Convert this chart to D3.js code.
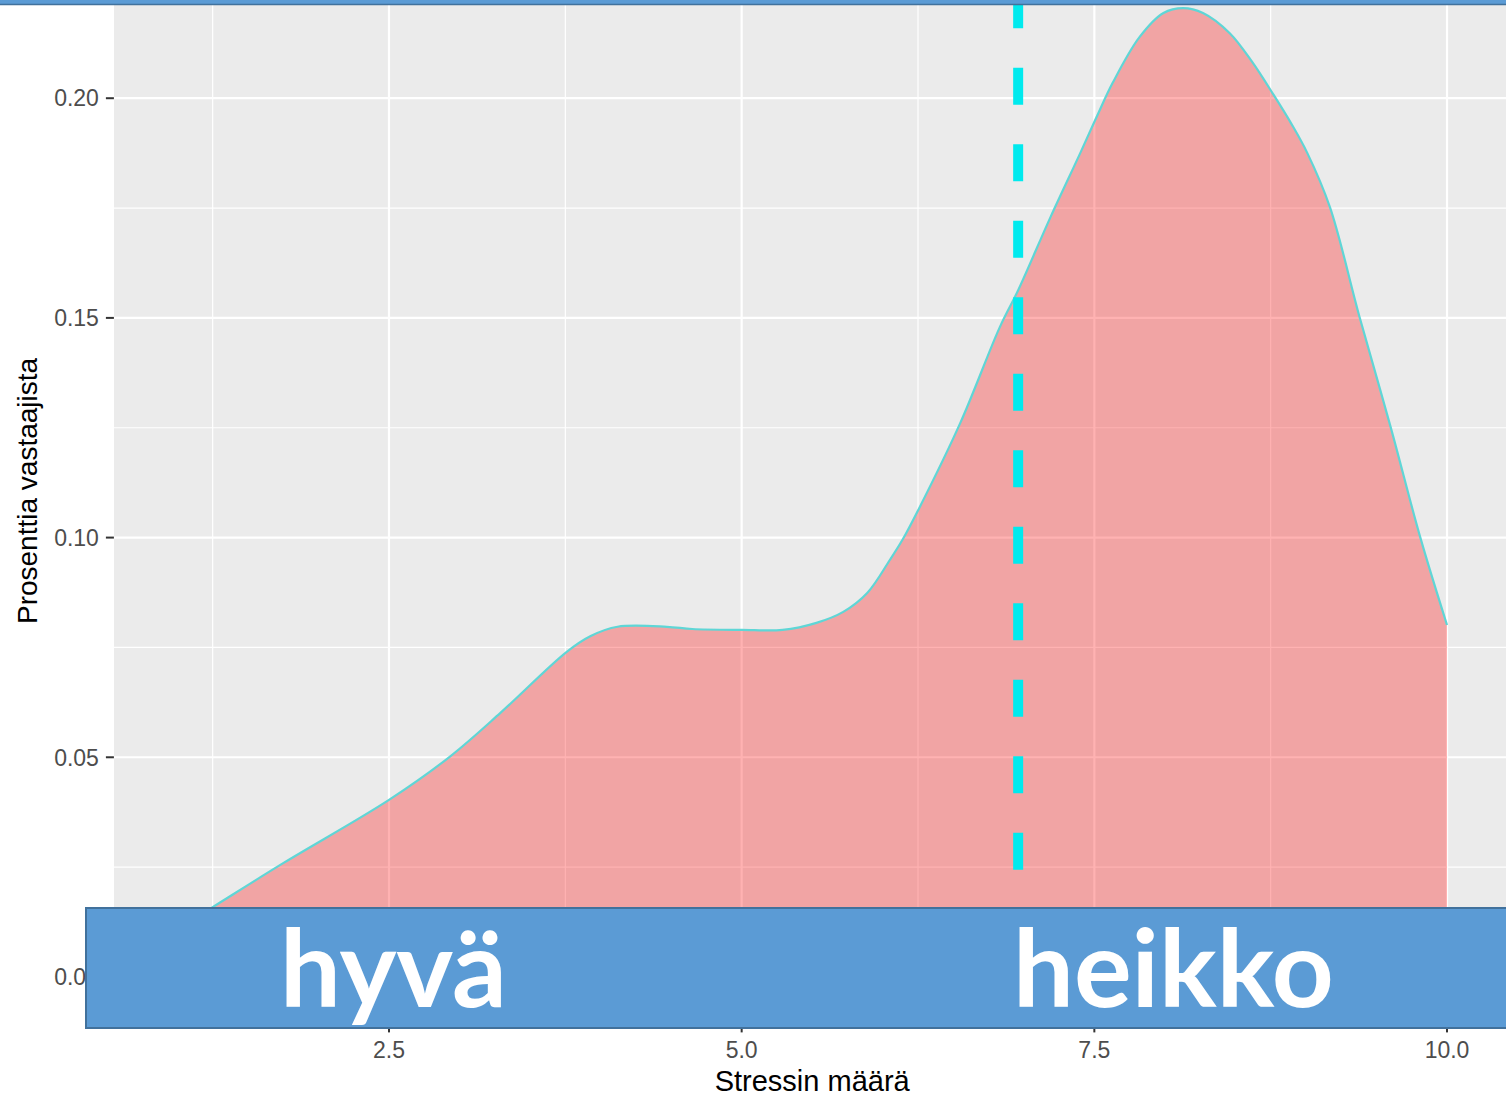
<!DOCTYPE html>
<html>
<head>
<meta charset="utf-8">
<script src="https://cdnjs.cloudflare.com/ajax/libs/d3/7.8.5/d3.min.js"></script>
<style>
  body { margin: 0; background: #fff; }
  svg { display: block; }
  .tick-label { font-family: "Liberation Sans", Arial, sans-serif; font-size: 23px; fill: #4d4d4d; }
  .axis-title { font-family: "Liberation Sans", Arial, sans-serif; font-size: 28px; fill: #000; }
  .banner-text { font-family: Lato, "Open Sans", sans-serif; font-weight: 700; font-size: 108px; fill: #fff; }
</style>
</head>
<body>
<svg width="1506" height="1096"></svg>
<script>
// density curve (stress score -> share of respondents)
const stress = [1.0, 1.25, 1.75, 2.5, 2.93, 3.29, 3.76, 3.93, 4.12, 4.47, 4.65, 5.0, 5.29, 5.53, 5.72, 5.89,
  6.05, 6.14, 6.26, 6.55, 6.83, 6.96, 7.19, 7.4, 7.52, 7.63, 7.82, 7.99, 8.13, 8.27, 8.46, 8.62, 8.77,
  8.9, 9.01, 9.17, 9.38, 9.6, 9.81, 10.0];
const density = [0.0109, 0.0159, 0.0259, 0.0403, 0.0501, 0.0601, 0.074, 0.0776, 0.0797, 0.0797, 0.0792, 0.079, 0.079, 0.0806, 0.0831, 0.0874,
  0.0949, 0.0995, 0.1068, 0.1261, 0.1479, 0.1563, 0.173, 0.1875, 0.196, 0.2035, 0.2139, 0.2194, 0.2205, 0.2194, 0.2148, 0.2082, 0.2008,
  0.194, 0.1875, 0.1752, 0.1502, 0.1252, 0.1001, 0.0801];
const meanStress = 6.96;

const xTicks = [2.5, 5.0, 7.5, 10.0];
const xMinor = [1.25, 3.75, 6.25, 8.75];
const yTicks = [0, 0.05, 0.10, 0.15, 0.20];
const yMinor = [0.025, 0.075, 0.125, 0.175, 0.225];
const bannerLabels = ['hyvä', 'heikko'];

const points = stress.map((s, i) => ({ x: s, y: density[i] }));

const svg = d3.select('svg');

// ggplot style panel, 5% expansion on both axes
const xScale = d3.scaleLinear().domain([0.55, 10.45]).range([113.9, 1510.5]);
const yScale = d3.scaleLinear().domain([-0.011025, 0.231525]).range([1025.4, -40.3]);

const [x0, x1] = xScale.range();
const [yb, yt] = yScale.range();

svg.append('defs').append('clipPath').attr('id', 'panel')
  .append('rect').attr('x', x0).attr('y', yt).attr('width', x1 - x0).attr('height', yb - yt);

const panel = svg.append('g').attr('clip-path', 'url(#panel)');

panel.append('rect')
  .attr('x', x0).attr('y', yt)
  .attr('width', x1 - x0).attr('height', yb - yt)
  .attr('fill', '#ebebeb');

// minor grid
panel.selectAll('.vminor').data(xMinor).enter().append('line')
  .attr('x1', d => xScale(d)).attr('x2', d => xScale(d))
  .attr('y1', yt).attr('y2', yb)
  .attr('stroke', '#fff').attr('stroke-width', 1.2);
panel.selectAll('.hminor').data(yMinor).enter().append('line')
  .attr('y1', d => yScale(d)).attr('y2', d => yScale(d))
  .attr('x1', x0).attr('x2', x1)
  .attr('stroke', '#fff').attr('stroke-width', 1.2);

// major grid
panel.selectAll('.vmajor').data(xTicks).enter().append('line')
  .attr('x1', d => xScale(d)).attr('x2', d => xScale(d))
  .attr('y1', yt).attr('y2', yb)
  .attr('stroke', '#fff').attr('stroke-width', 2.2);
panel.selectAll('.hmajor').data(yTicks).enter().append('line')
  .attr('y1', d => yScale(d)).attr('y2', d => yScale(d))
  .attr('x1', x0).attr('x2', x1)
  .attr('stroke', '#fff').attr('stroke-width', 2.2);

// density fill + upper outline
const curve = d3.curveCatmullRom.alpha(0.5);

const area = d3.area()
  .x(d => xScale(d.x))
  .y0(yScale(0))
  .y1(d => yScale(d.y))
  .curve(curve);

const line = d3.line()
  .x(d => xScale(d.x))
  .y(d => yScale(d.y))
  .curve(curve);

panel.append('path')
  .datum(points)
  .attr('d', area)
  .attr('fill', 'red')
  .attr('fill-opacity', 0.3);

panel.append('path')
  .datum(points)
  .attr('d', line)
  .attr('fill', 'none')
  .attr('stroke', '#5fd6d6')
  .attr('stroke-width', 2.2);

// mean line
panel.append('line')
  .attr('x1', xScale(meanStress)).attr('x2', xScale(meanStress))
  .attr('y1', yt).attr('y2', yb)
  .attr('stroke', '#00eaee')
  .attr('stroke-width', 10)
  .attr('stroke-dasharray', '37 39.5')
  .attr('stroke-dashoffset', 45);

// axes ticks + labels
const yAxis = svg.append('g');
yAxis.selectAll('line').data(yTicks).enter().append('line')
  .attr('x1', x0 - 8).attr('x2', x0)
  .attr('y1', d => yScale(d)).attr('y2', d => yScale(d))
  .attr('stroke', '#333').attr('stroke-width', 2);
yAxis.selectAll('text').data(yTicks).enter().append('text')
  .attr('class', 'tick-label')
  .attr('x', x0 - 15)
  .attr('y', d => yScale(d))
  .attr('dy', '0.36em')
  .attr('text-anchor', 'end')
  .text(d => d3.format('.2f')(d));

const xAxis = svg.append('g');
xAxis.selectAll('line').data(xTicks).enter().append('line')
  .attr('x1', d => xScale(d)).attr('x2', d => xScale(d))
  .attr('y1', yb).attr('y2', yb + 7)
  .attr('stroke', '#333').attr('stroke-width', 2);
xAxis.selectAll('text').data(xTicks).enter().append('text')
  .attr('class', 'tick-label')
  .attr('x', d => xScale(d))
  .attr('y', 1058)
  .attr('text-anchor', 'middle')
  .text(d => d3.format('.1f')(d));

svg.append('text')
  .attr('class', 'axis-title')
  .attr('x', (x0 + x1) / 2)
  .attr('y', 1091)
  .attr('text-anchor', 'middle')
  .style('font-size', '29px')
  .text('Stressin määrä');

svg.append('text')
  .attr('class', 'axis-title')
  .attr('transform', `translate(37, ${(yScale(0) + 5) / 2}) rotate(-90)`)
  .attr('text-anchor', 'middle')
  .text('Prosenttia vastaajista');

// slide decoration: top strip and bottom banner
svg.append('rect')
  .attr('x', 0).attr('y', 0).attr('width', 1506).attr('height', 4.5)
  .attr('fill', '#5b9bd5');
svg.append('line')
  .attr('x1', 0).attr('x2', 1506).attr('y1', 4.5).attr('y2', 4.5)
  .attr('stroke', '#41719c').attr('stroke-width', 1.5);

svg.append('rect')
  .attr('x', 86).attr('y', 908).attr('width', 1440).attr('height', 120)
  .attr('fill', '#5b9bd5')
  .attr('stroke', '#41719c')
  .attr('stroke-width', 2);

svg.selectAll('.banner-text').data(bannerLabels).enter().append('text')
  .attr('class', 'banner-text')
  .attr('x', (d, i) => i === 0 ? 280 : 1013)
  .attr('y', 1007)
  .text(d => d);
</script>
</body>
</html>
